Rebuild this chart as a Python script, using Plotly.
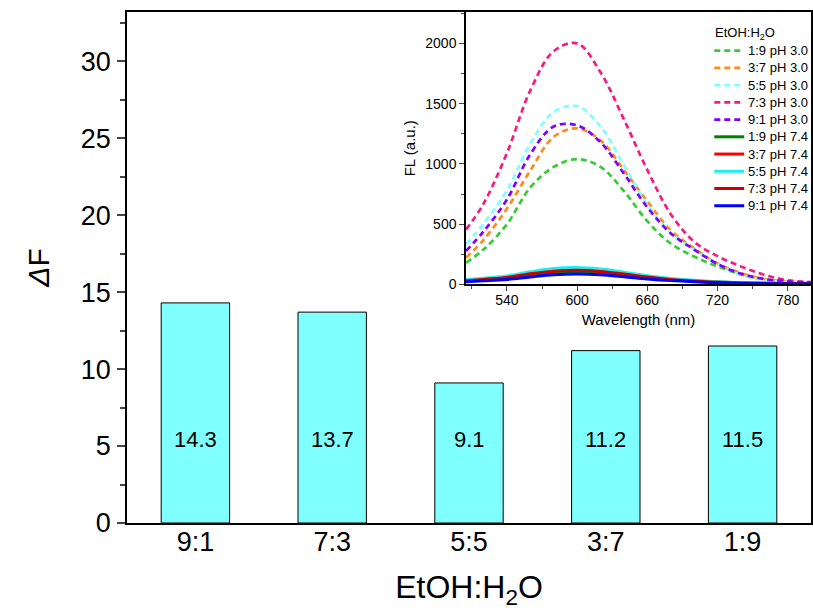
import plotly.graph_objects as go

# ---------------- data ----------------
ratios = ["9:1", "7:3", "5:5", "3:7", "1:9"]
delta_f = [14.3, 13.7, 9.1, 11.2, 11.5]

wavelength = [505, 520, 540, 560, 580, 600, 620, 640, 660, 680, 700, 720, 740, 760, 780, 800]

fl_19_ph30 = [180, 290, 500, 805, 975, 1040, 975, 775, 525, 340, 232, 150, 85, 45, 25, 15]
fl_37_ph30 = [222, 370, 630, 945, 1225, 1295, 1195, 950, 690, 450, 300, 175, 95, 45, 25, 15]
fl_55_ph30 = [335, 505, 780, 1170, 1430, 1480, 1310, 990, 665, 430, 290, 170, 80, 38, 22, 15]
fl_73_ph30 = [455, 670, 1090, 1610, 1935, 2000, 1760, 1370, 950, 585, 355, 235, 150, 80, 35, 20]
fl_91_ph30 = [277, 440, 705, 1080, 1310, 1320, 1180, 920, 640, 425, 290, 170, 90, 45, 25, 15]
fl_19_ph74 = [30, 40, 55, 80, 100, 108, 100, 80, 58, 40, 28, 20, 14, 10, 8, 6]
fl_37_ph74 = [35, 46, 65, 95, 120, 128, 118, 95, 68, 45, 30, 20, 14, 10, 8, 6]
fl_55_ph74 = [40, 52, 70, 105, 132, 140, 128, 102, 73, 50, 34, 23, 16, 12, 9, 7]
fl_73_ph74 = [30, 42, 58, 88, 110, 118, 108, 86, 62, 42, 28, 18, 12, 9, 7, 5]
fl_91_ph74 = [22, 30, 42, 62, 80, 86, 80, 64, 46, 32, 22, 15, 10, 8, 6, 5]

series_names = ["1:9 pH 3.0", "3:7 pH 3.0", "5:5 pH 3.0", "7:3 pH 3.0", "9:1 pH 3.0",
                "1:9 pH 7.4", "3:7 pH 7.4", "5:5 pH 7.4", "7:3 pH 7.4", "9:1 pH 7.4"]
series_vals = [fl_19_ph30, fl_37_ph30, fl_55_ph30, fl_73_ph30, fl_91_ph30,
               fl_19_ph74, fl_37_ph74, fl_55_ph74, fl_73_ph74, fl_91_ph74]
series_colors = ["#33CC33", "#FF8C1A", "#80FFFF", "#F51A85", "#8000FF",
                 "#008000", "#FF0000", "#1EEEEE", "#CC0000", "#0000FF"]
series_dashed = [True] * 5 + [False] * 5

FONT = "Arial, Liberation Sans, sans-serif"

# ---------------- layout geometry (pixels) ----------------
W, H = 813, 610
L, R, T, B = 127, 0, 12, 86
PW, PH = W - L - R, H - T - B


def px_x(p):
    return (p - L) / PW


def px_y(p):
    return (H - B - p) / PH


fig = go.Figure()

# main bars
fig.add_trace(go.Bar(
    x=ratios, y=delta_f, width=0.5,
    marker=dict(color="#80FFFF", line=dict(color="black", width=1)),
    showlegend=False, xaxis="x", yaxis="y",
))

# inset spectra
for name, vals, col, dashed in zip(series_names, series_vals, series_colors, series_dashed):
    fig.add_trace(go.Scatter(
        x=wavelength, y=vals, mode="lines", name=name,
        line=dict(color=col, width=2.7 if dashed else 3, shape="spline",
                  dash="6px,4px" if dashed else "solid"),
        showlegend=False, xaxis="x2", yaxis="y2",
    ))

annotations = []
# bar value labels
for r, v in zip(ratios, delta_f):
    annotations.append(dict(x=r, y=5.4, xref="x", yref="y", text=f"{v:.1f}",
                            showarrow=False, font=dict(size=22, color="black", family=FONT)))

# manual legend for inset
shapes = []
annotations.append(dict(x=px_x(715), y=px_y(34), xref="paper", yref="paper",
                        text="EtOH:H<sub>2</sub>O", showarrow=False, xanchor="left",
                        yanchor="middle", font=dict(size=13, color="black", family=FONT)))
for i, (name, col, dashed) in enumerate(zip(series_names, series_colors, series_dashed)):
    yy = 50.7 + 17.27 * i
    shapes.append(dict(type="line", xref="paper", yref="paper",
                       x0=px_x(716), x1=px_x(742 if dashed else 746), y0=px_y(yy), y1=px_y(yy),
                       line=dict(color=col, width=2.7 if dashed else 3,
                                 dash="6px,4px" if dashed else "solid")))
    annotations.append(dict(x=px_x(748), y=px_y(yy), xref="paper", yref="paper",
                            text=name, showarrow=False, xanchor="left", yanchor="middle",
                            font=dict(size=13, color="black", family=FONT)))

fig.update_layout(
    width=W, height=H,
    margin=dict(l=L, r=R, t=T, b=B),
    paper_bgcolor="white", plot_bgcolor="white",
    font=dict(family=FONT, color="black"),
    bargap=0.5,
    xaxis=dict(
        domain=[0, 1], range=[-0.5, 4.5], type="category",
        showline=True, linecolor="black", linewidth=1.5, mirror=True,
        ticks="", showgrid=False, zeroline=False,
        tickfont=dict(size=27), ticklabelstandoff=-6,
        title=dict(text="EtOH:H<sub>2</sub>O", font=dict(size=32), standoff=30),
    ),
    yaxis=dict(
        domain=[0, 1], range=[0, 33.2], tick0=0, dtick=5,
        showline=True, linecolor="black", linewidth=1.5, mirror=True,
        ticks="outside", ticklen=8, tickwidth=1.5, showgrid=False, zeroline=False,
        minor=dict(dtick=2.5, ticks="outside", ticklen=5, tickwidth=1.5, showgrid=False),
        tickfont=dict(size=27), ticklabelstandoff=1,
        title=dict(text="<i>Δ</i>F", font=dict(size=30), standoff=22),
    ),
    xaxis2=dict(
        domain=[px_x(467), 1], anchor="y2", range=[505, 800], tick0=540, dtick=60,
        showline=True, linecolor="black", linewidth=1.5, mirror=True,
        ticks="outside", ticklen=5, tickwidth=1.2, showgrid=False, zeroline=False,
        minor=dict(tick0=510, dtick=30, ticks="outside", ticklen=3, tickwidth=1.2, showgrid=False),
        tickfont=dict(size=14), ticklabelstandoff=-3,
        title=dict(text="Wavelength (nm)", font=dict(size=15), standoff=7),
    ),
    yaxis2=dict(
        domain=[px_y(285), 1], anchor="x2", range=[0, 2260], tick0=0, dtick=500,
        showline=True, linecolor="black", linewidth=1.5, mirror=True,
        ticks="outside", ticklen=5, tickwidth=1.2, showgrid=False, zeroline=False,
        minor=dict(dtick=250, ticks="outside", ticklen=3, tickwidth=1.2, showgrid=False),
        tickfont=dict(size=14),
        title=dict(text="FL (a.u.)", font=dict(size=15), standoff=6),
    ),
    shapes=shapes,
    annotations=annotations,
)

fig.write_html("out.html")
